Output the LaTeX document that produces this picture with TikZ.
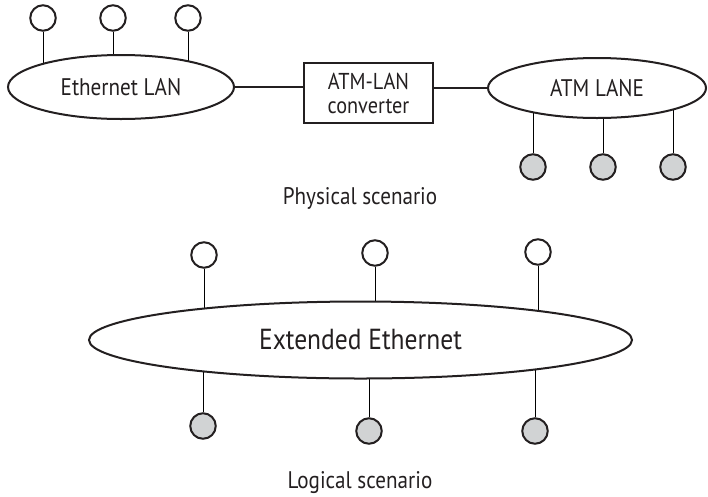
\documentclass[tikz,border=0pt]{standalone}
\usepackage{fontspec}
\setmainfont[FakeStretch=0.88]{PT Sans}
\usetikzlibrary{shapes.geometric,backgrounds}
\definecolor{ink}{HTML}{231F20}
\definecolor{shade}{HTML}{D1D3D4}
\begin{document}
\begin{tikzpicture}[x=1pt,y=-1pt,
  line width=2pt, draw=ink, text=ink,
  lan/.style={ellipse,draw,fill=white,inner sep=0pt},
  host/.style={circle,draw,fill=white,minimum size=25.5pt,inner sep=0pt},
  atmhost/.style={host,fill=shade},
  convbox/.style={rectangle,draw,fill=white,minimum width=129pt,minimum height=60pt,align=center,inner sep=0pt},
  caption/.style={anchor=base,font=\fontsize{24}{28}\selectfont}
]
\useasboundingbox (0,0) rectangle (708,496);

% ---------- physical scenario ----------
\node[lan,minimum width=226pt,minimum height=64pt,font=\fontsize{24}{28}\selectfont] (eth) at (121,87) {Ethernet LAN};
\node[lan,minimum width=218pt,minimum height=60pt,font=\fontsize{24}{28}\selectfont] (atm) at (597,88) {ATM LANE};
\node[convbox,font=\fontsize{23}{24}\selectfont] (cv) at (368.5,93) {ATM-LAN\\converter};

\node[host] (e1) at (43,18) {};
\node[host] (e2) at (113,18) {};
\node[host] (e3) at (188,18) {};
\node[atmhost] (a1) at (533,167) {};
\node[atmhost] (a2) at (603,167) {};
\node[atmhost] (a3) at (673,167) {};

\draw (eth.east) -- (eth.east -| cv.west);
\draw (cv.east |- atm.west) -- (atm.west);

\node[caption] (phys) at (360,204) {Physical scenario};

% ---------- logical scenario ----------
\node[lan,minimum width=543pt,minimum height=77pt,font=\fontsize{29}{34}\selectfont] (ext) at (360.5,340) {Extended Ethernet};

\node[host] (t1) at (204,255) {};
\node[host] (t2) at (375,253) {};
\node[host] (t3) at (538,252) {};
\node[atmhost] (b1) at (203,426) {};
\node[atmhost] (b2) at (369,431) {};
\node[atmhost] (b3) at (535,431) {};

\node[caption] (logi) at (360,488) {Logical scenario};

% stems run behind the filled shapes
\begin{pgfonlayer}{background}
  \foreach \h in {e1,e2,e3} \draw (\h) -- (\h |- eth.center);
  \foreach \h in {a1,a2,a3} \draw (\h) -- (\h |- atm.center);
  \foreach \h in {t1,t2,t3,b1,b2,b3} \draw (\h) -- (\h |- ext.center);
\end{pgfonlayer}
\end{tikzpicture}
\end{document}
